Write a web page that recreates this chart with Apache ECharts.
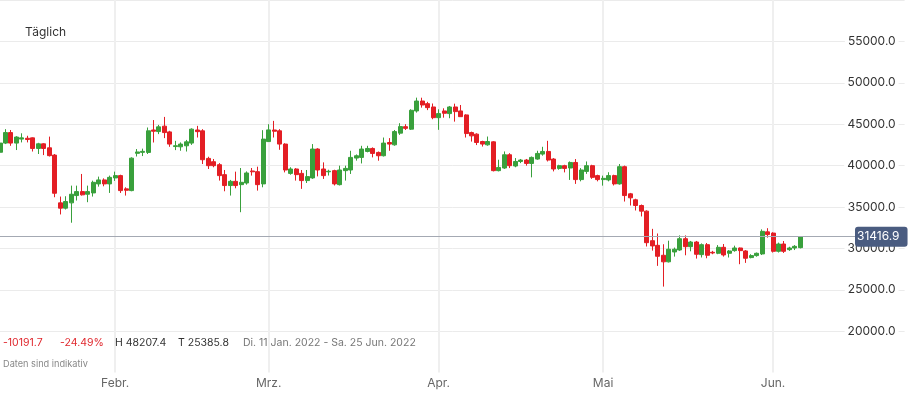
<!DOCTYPE html>
<html><head><meta charset="utf-8">
<script src="https://cdn.jsdelivr.net/npm/echarts@6/dist/echarts.min.js"></script>
<style>html,body{margin:0;padding:0;background:#fff}#c{width:908px;height:394px}</style>
</head><body><div id="c"></div>
<script>
// ---- data (daily candles, 11 Jan 2022 .. 6 Jun 2022; axis runs to 25 Jun 2022) ----
const firstDay = [2022, 0, 11];
const lastDay = [2022, 5, 25];
const monthLabels = {'02': 'Febr.', '03': 'Mrz.', '04': 'Apr.', '05': 'Mai', '06': 'Jun.'};

const opens = [
  // Jan 11-31
  41609,42720,43990,42720,43200,43300,43350,42070,42630,42150,41270,35500,34860,35500,36380,36860,36540,36700,37790,38270,37790,
  // Feb
  38510,38790,37190,36980,41480,41600,41590,44300,44110,44760,44070,42300,42270,42390,42720,44300,44200,40870,40470,40110,38910,37590,38100,37700,37900,39350,39270,37790,
  // Mar
  42900,44300,44200,42600,39060,39590,39060,38190,38510,42000,39590,39250,39390,37700,39390,39470,40910,40990,41710,42070,41590,41190,42790,42510,43920,44700,44400,46600,47800,47480,47080,
  // Apr
  45790,46600,46280,47080,46600,46120,43990,43800,42910,42510,42870,39390,39710,41310,39950,40500,40670,40260,40790,41390,41710,40790,39660,39990,39710,40380,38310,39300,39990,38790,
  // May
  38310,38270,38790,37790,39870,36590,35870,35180,34500,30930,30370,29170,28380,29570,29810,31170,30210,30770,29250,30450,29530,29410,30130,29410,29730,30050,29690,28890,29130,29330,32000,
  // Jun 1-6
  31850,29650,30530,29850,30050,30090
];
const closes = [
  42720,43990,42720,43450,43350,43150,42070,42630,42070,41200,36660,34860,35660,36540,36860,36470,36860,37980,38270,37790,38580,
  38790,36980,37020,40900,41650,41720,44200,44150,44680,43990,42600,42400,42600,42870,44400,44100,40710,39990,39990,38790,37590,38100,37590,37980,39110,39250,37700,43200,
  44310,44150,42600,39470,39590,38910,38190,38670,42000,39470,38790,39320,37790,39470,39660,40990,41190,42000,42070,41470,41190,42720,42600,44110,44710,44500,46680,47800,47320,47000,45790,
  46280,46320,47080,46520,45910,43870,43590,42790,42600,42910,39390,39780,41310,39990,40500,40670,40260,40990,41470,41710,40670,39590,39990,39660,40380,38310,39470,39990,38580,38310,
  38460,38790,37790,39870,36380,36110,35180,34500,30690,30300,29050,28380,29900,29900,31170,30210,30770,29290,30450,29170,29450,30130,29210,29690,30050,29730,28810,29130,29410,32060,31670,
  29650,30530,29650,30050,30250,31416.9
];
const lows = [
  41300,42600,42390,41880,42800,42800,41700,41400,41270,41100,36180,34100,34700,33100,35780,36380,35580,36260,37460,37500,36700,
  38150,36700,36380,36900,41100,41150,41400,42790,43800,43320,42270,41870,41790,41700,42500,43390,40190,39590,39800,38190,36900,36380,37260,34370,37700,38790,36980,37380,
  42850,43390,41910,39180,38900,38190,37190,37900,38400,38700,38390,38800,37600,37600,38190,38990,40600,40260,41600,40990,40590,41100,41790,42400,43710,44300,44300,46400,47000,46700,45600,
  44320,45790,45720,45310,45900,43390,42900,42480,42300,42400,39300,39300,39600,39700,39800,40300,39990,38580,40700,41200,40500,39300,39500,39180,38270,37790,38100,39000,38400,38100,
  37580,38100,37600,37700,35660,35180,34580,33860,30230,29730,27890,25385.8,28300,29010,29700,29170,29650,28770,28900,28810,29300,29300,29010,28900,29600,28090,28250,28800,29000,29200,31300,
  29500,29500,29450,29700,29800,30000
];
const highs = [
  43000,44400,44300,43550,43900,43600,43400,42750,42700,43500,41400,36260,36300,37580,37580,38990,37580,38180,38670,38460,38790,
  39270,38900,37380,41000,42000,42050,44600,45500,44920,45880,44200,42990,42800,43100,44500,44800,44400,41070,40800,40300,39470,38270,39270,39710,39300,39710,39870,44280,
  45000,45400,44400,42700,39800,39700,39470,39470,42600,42100,40390,39500,39500,39990,39990,41790,41350,42390,42390,42200,41700,43390,43320,44300,45120,45000,46800,48207.4,48200,47700,47500,
  46800,46920,47200,47480,47320,46200,44100,43900,43000,43510,42950,40710,41710,41500,40910,40800,40800,41100,41790,42270,42990,40900,40100,40100,40500,40790,39700,40500,40100,38900,
  38790,39200,38900,40190,40000,36700,36000,35300,34600,32360,31800,30500,30930,30100,31570,31570,30900,30900,30600,30650,29700,30400,30530,29800,30330,30100,29800,29300,29500,32300,32440,
  31950,30700,30890,30200,30400,31450
];
const lastPrice = 31416.9;
const statChange = '-10191.7';
const statPercent = '-24.49%';
const statHigh = 'H 48207.4';
const statLow = 'T 25385.8';
const statRange = 'Di. 11 Jan. 2022 - Sa. 25 Jun. 2022';

// ---- build ----
const dates = [];
for (let t = Date.UTC(...firstDay); t <= Date.UTC(...lastDay); t += 86400000) {
  dates.push(new Date(t).toISOString().slice(0, 10));
}
const candles = opens.map((o, i) => [o, closes[i], lows[i], highs[i]]);
const isMonthStart = (i, v) => v.slice(8) === '01';

const UP = '#39a03c', DOWN = '#e31e24';
const FONT = 'Inter, "Noto Sans", sans-serif';

const chart = echarts.init(document.getElementById('c'), null, {renderer: 'canvas'});
chart.setOption({
  animation: false,
  backgroundColor: '#fff',
  grid: {left: -2.1, right: 3.4, top: -1.6, bottom: 21.4, containLabel: false},
  xAxis: {
    type: 'category', data: dates, boundaryGap: false,
    axisLine: {show: false}, axisTick: {show: false},
    axisLabel: {interval: isMonthStart, formatter: v => monthLabels[v.slice(5, 7)] || '',
      color: '#666', fontSize: 12, fontFamily: FONT, margin: 5},
    splitLine: {show: true, interval: isMonthStart, lineStyle: {color: '#efefef', width: 2}}
  },
  yAxis: {
    type: 'value', position: 'right', min: 15000, max: 60000, interval: 5000,
    axisLine: {show: false}, axisTick: {show: false},
    axisLabel: {inside: true, formatter: v => v.toFixed(1), color: '#333', fontSize: 12, fontFamily: FONT,
      margin: 6, backgroundColor: '#fff', padding: [2, 3], showMinLabel: false, showMaxLabel: false},
    splitLine: {show: true, lineStyle: {color: ['rgba(0,0,0,0)', '#ebebeb', '#ebebeb', '#ebebeb', '#ebebeb', '#ebebeb', '#ebebeb', '#ebebeb', '#ebebeb', '#ebebeb'], width: 1}}
  },
  series: [{
    type: 'candlestick', data: candles, barWidth: 4.5,
    itemStyle: {color: UP, color0: DOWN, borderColor: UP, borderColor0: DOWN, borderWidth: 1},
    markLine: {silent: true, symbol: 'none', animation: false,
      label: {show: false},
      lineStyle: {color: '#a4a9b3', width: 1.2, type: 'solid'},
      data: [{yAxis: lastPrice}]}
  }]
});

const py = chart.convertToPixel({yAxisIndex: 0}, lastPrice);
const statY = 343;
const statFont = '10.5px ' + FONT;
chart.setOption({
  graphic: [
    {type: 'text', x: 25, y: 32, style: {text: 'Täglich', fill: '#333', font: '12px ' + FONT, verticalAlign: 'middle'}},
    {type: 'text', x: 3, y: statY, style: {text: statChange, fill: '#e0282e', font: statFont, verticalAlign: 'middle'}},
    {type: 'text', x: 60, y: statY, style: {text: statPercent, fill: '#e0282e', font: statFont, verticalAlign: 'middle'}},
    {type: 'text', x: 115, y: statY, style: {text: statHigh, fill: '#333', font: statFont, verticalAlign: 'middle'}},
    {type: 'text', x: 178, y: statY, style: {text: statLow, fill: '#333', font: statFont, verticalAlign: 'middle'}},
    {type: 'text', x: 243, y: statY, style: {text: statRange, fill: '#777', font: statFont, verticalAlign: 'middle'}},
    {type: 'text', x: 3, y: 364, style: {text: 'Daten sind indikativ', fill: '#888', font: '9.2px ' + FONT, verticalAlign: 'middle'}},
    {type: 'text', x: 855, y: py, z: 100, style: {text: lastPrice.toFixed(1), fill: '#fff', font: '12px ' + FONT,
      verticalAlign: 'middle', backgroundColor: '#4a5c80', padding: [4, 8, 4, 2], borderRadius: 3}}
  ]
});
</script></body></html>
